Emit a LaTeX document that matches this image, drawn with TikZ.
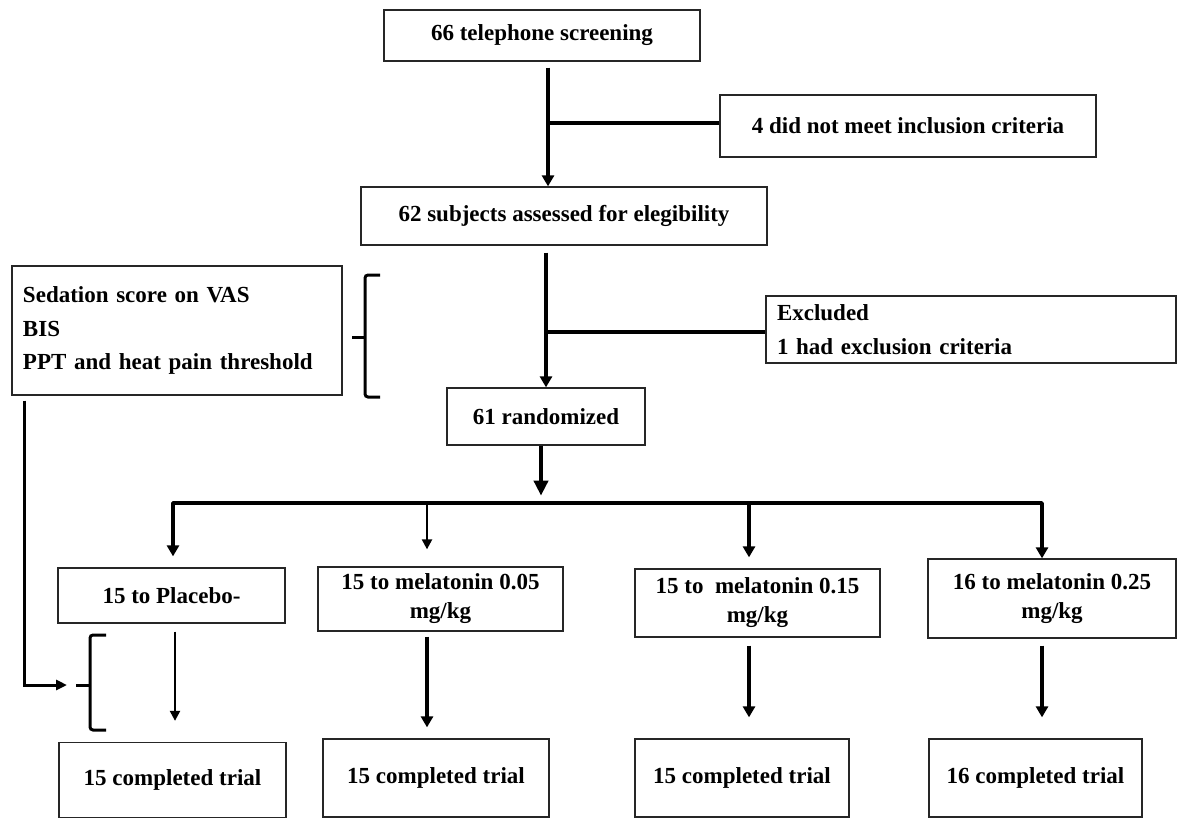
\documentclass[tikz,border=0pt]{standalone}
\usepackage{fontspec}
\setmainfont{Liberation Serif}
\usetikzlibrary{arrows.meta,calc}
\begin{document}
\begin{tikzpicture}[x=1pt,y=-1pt,
  box/.style={draw=black!85,line width=1.3pt,inner sep=0pt,align=center,
    font=\fontsize{23}{29}\selectfont\bfseries},
  lbox/.style={box,align=left,inner xsep=11pt,font=\fontsize{23}{33.5}\selectfont\bfseries},
  wire/.style={line width=3.5pt},
  thinwire/.style={line width=2.2pt},
  arr/.style={wire,-{Triangle[width=12pt,length=11pt]}},
  bigarr/.style={line width=4pt,-{Triangle[width=14pt,length=15pt]}},
  tarr/.style={thinwire,-{Triangle[width=10pt,length=10pt]}},
  brack/.style={line width=3pt,rounded corners=3pt},
]
\useasboundingbox[fill=white] (0,0) rectangle (1177,819);

% boxes
\node[box,minimum width=316pt,minimum height=51pt] (top) at (542,35.5) {66 telephone screening};
\node[box,minimum width=376pt,minimum height=62pt] (incl) at (908,126) {4 did not meet inclusion criteria};
\node[box,minimum width=406pt,minimum height=58pt] (s62) at (564,216) {62 subjects assessed for elegibility};
\node[lbox,text width=388pt,minimum height=67pt] (excl) at (971,329.5) {Excluded\\1 had exclusion criteria};
\node[lbox,text width=308pt,minimum height=129pt] (sed) at (177,330.5) {Sedation score on VAS\\BIS\\PPT and heat pain threshold};
\node[box,minimum width=198pt,minimum height=57pt] (rand) at (546,416.5) {61 randomized};

\node[box,minimum width=227pt,minimum height=55pt] (plac) at (171.5,595.5) {15 to Placebo-};
\node[box,minimum width=245pt,minimum height=64pt] (m05) at (440.5,599) {15 to melatonin 0.05\\mg/kg};
\node[box,minimum width=245pt,minimum height=68pt] (m15) at (757.5,603) {15 to~ melatonin 0.15\\mg/kg};
\node[box,minimum width=248pt,minimum height=79pt] (m25) at (1052,598.5) {16 to melatonin 0.25\\mg/kg};

\node[box,minimum width=227pt,minimum height=75pt] (c1) at (172.5,780) {15 completed trial};
\node[box,minimum width=226pt,minimum height=78pt] (c2) at (436,778) {15 completed trial};
\node[box,minimum width=214pt,minimum height=78pt] (c3) at (742,778) {15 completed trial};
\node[box,minimum width=213pt,minimum height=78pt] (c4) at (1035.5,778) {16 completed trial};

% top part
\coordinate (t1) at ($(top.south)+(6,6)$);
\coordinate (j1) at (548,123);
\draw[arr] (t1) -- (t1 |- s62.north);
\draw[wire] (j1) -- (j1 -| incl.west);

\coordinate (j2) at (546,332);
\draw[arr] ($(s62.south -| rand.north)+(0,7)$) -- (rand.north);
\draw[wire] (j2) -- (j2 -| excl.west);

% randomization split
\draw[bigarr] ($(rand.south)+(-5,0)$) -- ($(rand.south)+(-5,50)$);
\coordinate (bl) at (173,503);
\coordinate (br) at (1042,503);
\coordinate (b05) at (427,503);
\coordinate (b15) at (749,503);
\draw[wire,line join=round,{Triangle[width=12pt,length=11pt]}-{Triangle[width=12pt,length=11pt]}]
  ($(bl |- plac.north)+(0,-11)$) -- (bl) -- (br) -- (br |- m25.north);
\draw[tarr] (b05) -- ($(b05 |- m05.north)+(0,-17)$);
\draw[arr] (b15) -- ($(b15 |- m15.north)+(0,-11)$);

% down arrows
\draw[tarr] ($(plac.south)+(3.5,8)$) -- ($(c1.north)+(2.5,-21)$);
\draw[arr] ($(m05.south)+(-13.5,5)$) -- ($(c2.north)+(-9,-11)$);
\draw[arr] ($(m15.south)+(-8.5,8)$) -- ($(c3.north)+(7,-21)$);
\draw[arr] ($(m25.south)+(-10,7)$) -- ($(c4.north)+(6.5,-21)$);

% brackets
\coordinate (brk2) at (365,337);
\draw[brack] ($(brk2)+(15,-62)$) -- ($(brk2)+(0,-62)$) -- ($(brk2)+(0,60)$) -- ($(brk2)+(15,60)$);
\draw[line width=3pt] (brk2) -- +(-13,0);

\coordinate (brk) at (90,685);
\draw[brack] ($(brk)+(16,-50)$) -- ($(brk)+(0,-50)$) -- ($(brk)+(0,45)$) -- ($(brk)+(16,45)$);
\draw[line width=3pt] (brk) -- +(-14,0);
\draw[line width=3pt,-{Triangle[width=10pt,length=11pt]}] ($(sed.south west)+(13,5)$) |- ($(brk)+(-23,0)$);
\end{tikzpicture}
\end{document}
